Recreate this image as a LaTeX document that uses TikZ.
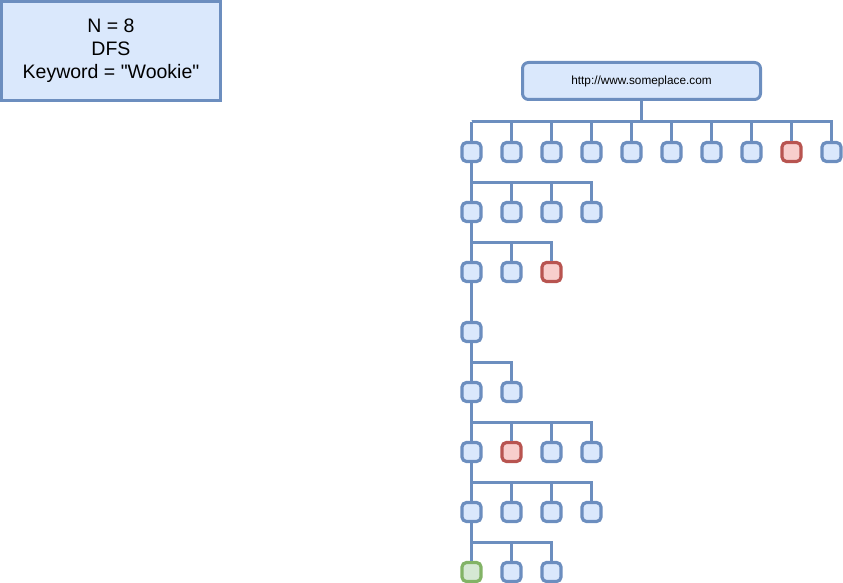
\documentclass[tikz,border=0pt]{standalone}
\usepackage{fontspec}
\newfontfamily\lib{Liberation Sans}
\definecolor{bstroke}{HTML}{6C8EBF}
\definecolor{bfill}{HTML}{DAE8FC}
\definecolor{rstroke}{HTML}{B85450}
\definecolor{rfill}{HTML}{F8CECC}
\definecolor{gstroke}{HTML}{82B366}
\definecolor{gfill}{HTML}{D5E8D4}
\begin{document}
\begin{tikzpicture}[x=1pt,y=-1pt,
  sq/.style={draw=bstroke, fill=bfill, line width=3.2pt, rounded corners=4.5pt,
             minimum size=19pt, inner sep=0pt},
  hit/.style={draw=rstroke, fill=rfill},
  found/.style={draw=gstroke, fill=gfill},
  link/.style={draw=bstroke, line width=3pt},
  c1-9/.style={hit}, c3-3/.style={hit}, c6-2/.style={hit}, c8-1/.style={found}]
\useasboundingbox (0,0) rectangle (843,583);
\node[draw=bstroke, fill=bfill, line width=3pt, minimum width=219pt, minimum height=99pt,
      inner sep=0pt, align=center, font=\lib\fontsize{19.5}{23}\selectfont] (info) at (111,51)
  {N = 8\\DFS\\Keyword = "Wookie"};
\node[draw=bstroke, fill=bfill, line width=3pt, rounded corners=6pt, minimum width=238pt,
      minimum height=37pt, inner sep=0pt, font=\lib\fontsize{11.8}{14}\selectfont] (root) at (641.5,81)
  {http://www.someplace.com};
\foreach \r/\n in {1/10, 2/4, 3/3, 4/1, 5/2, 6/4, 7/4, 8/3} {
  \coordinate (b\r) at (471.5, {62+60*\r});
  \foreach \k in {1,...,\n} {
    \node[sq, c\r-\k/.try] (n\r-\k) at ({431.5+40*\k}, {92+60*\r}) {};
  }
}
% root to first row
\draw[link] (root.south) -- (root.south |- b1);
\foreach \k in {1,...,10} { \draw[link] (b1) -| (n1-\k.north); }
% deeper rows
\foreach \r/\p/\n in {2/1/4, 3/2/3, 4/3/1, 5/4/2, 6/5/4, 7/6/4, 8/7/3} {
  \draw[link] (n\p-1.south) -- (b\r);
  \foreach \k in {1,...,\n} { \draw[link] (b\r) -| (n\r-\k.north); }
}
\end{tikzpicture}
\end{document}
